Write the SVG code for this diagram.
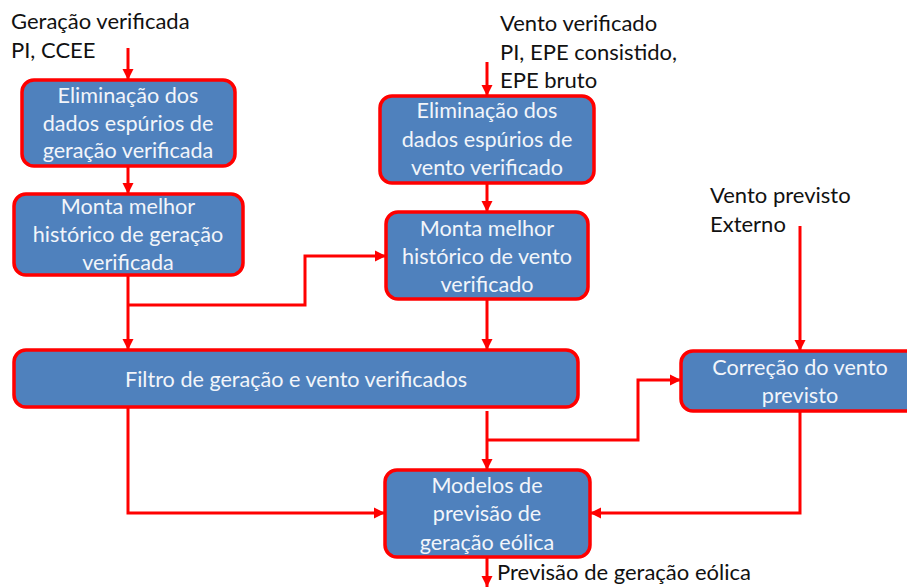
<svg xmlns="http://www.w3.org/2000/svg" width="907" height="587" viewBox="0 0 907 587">
<defs>
<marker id="ah" markerUnits="userSpaceOnUse" markerWidth="12" markerHeight="12" refX="11" refY="6" orient="auto">
<path d="M0,0.5 L11,6 L0,11.5 z" fill="#ff0000"/>
</marker>
<style>
.box{fill:#4f81bd;stroke:#ff0000;stroke-width:3.5}
.bt{font-family:Lato,"Liberation Sans",sans-serif;font-size:21.6px;fill:#f2f5fa;text-anchor:middle}
.lt{font-family:Lato,"Liberation Sans",sans-serif;font-size:22px;fill:#111111}
.c{fill:none;stroke:#ff0000;stroke-width:3}
</style>
</defs>
<rect width="907" height="587" fill="#ffffff"/>
<g id="labels">
<text class="lt" x="11" y="29">Geração verificada</text>
<text class="lt" x="11" y="58">PI, CCEE</text>
<text class="lt" x="500" y="31">Vento verificado</text>
<text class="lt" x="500" y="60">PI, EPE consistido,</text>
<text class="lt" x="500" y="88">EPE bruto</text>
<text class="lt" x="710" y="203">Vento previsto</text>
<text class="lt" x="710" y="232">Externo</text>
<text class="lt" x="497" y="580">Previsão de geração eólica</text>
</g>
<g id="connectors">
<path class="c" d="M128,48 V80" marker-end="url(#ah)"/>
<path class="c" d="M128,166 V194" marker-end="url(#ah)"/>
<path class="c" d="M128,275 V350" marker-end="url(#ah)"/>
<path class="c" d="M128,305 H305 V256 H386" marker-end="url(#ah)"/>
<path class="c" d="M487,62 V96" marker-end="url(#ah)"/>
<path class="c" d="M487,183 V212" marker-end="url(#ah)"/>
<path class="c" d="M487,299 V350" marker-end="url(#ah)"/>
<path class="c" d="M487,411 V470" marker-end="url(#ah)"/>
<path class="c" d="M487,440 H638 V380 H681" marker-end="url(#ah)"/>
<path class="c" d="M800,226 V351" marker-end="url(#ah)"/>
<path class="c" d="M800,411 V513 H590" marker-end="url(#ah)"/>
<path class="c" d="M128,407 V513 H385" marker-end="url(#ah)"/>
<path class="c" d="M487,557 V587" marker-end="url(#ah)"/>
</g>
<g id="elim-geracao">
<rect class="box" x="22" y="80" width="213" height="86" rx="12"/>
<text class="bt" x="128" y="103">Eliminação dos</text>
<text class="bt" x="128" y="131">dados espúrios de</text>
<text class="bt" x="128" y="158">geração verificada</text>
</g>
<g id="monta-geracao">
<rect class="box" x="14" y="194" width="229" height="81" rx="12"/>
<text class="bt" x="128" y="214">Monta melhor</text>
<text class="bt" x="128" y="242">histórico de geração</text>
<text class="bt" x="128" y="270">verificada</text>
</g>
<g id="elim-vento">
<rect class="box" x="380" y="96" width="214" height="87" rx="12"/>
<text class="bt" x="487" y="118">Eliminação dos</text>
<text class="bt" x="487" y="147">dados espúrios de</text>
<text class="bt" x="487" y="175">vento verificado</text>
</g>
<g id="monta-vento">
<rect class="box" x="386" y="212" width="202" height="87" rx="12"/>
<text class="bt" x="487" y="236">Monta melhor</text>
<text class="bt" x="487" y="264">histórico de vento</text>
<text class="bt" x="487" y="292">verificado</text>
</g>
<g id="filtro">
<rect class="box" x="14" y="350" width="564" height="57" rx="12"/>
<text class="bt" x="296" y="387">Filtro de geração e vento verificados</text>
</g>
<g id="correcao">
<rect class="box" x="681" y="351" width="240" height="60" rx="12"/>
<text class="bt" x="800" y="375">Correção do vento</text>
<text class="bt" x="800" y="403">previsto</text>
</g>
<g id="modelos">
<rect class="box" x="385" y="470" width="205" height="87" rx="12"/>
<text class="bt" x="487" y="493">Modelos de</text>
<text class="bt" x="487" y="521">previsão de</text>
<text class="bt" x="487" y="550">geração eólica</text>
</g>
</svg>
